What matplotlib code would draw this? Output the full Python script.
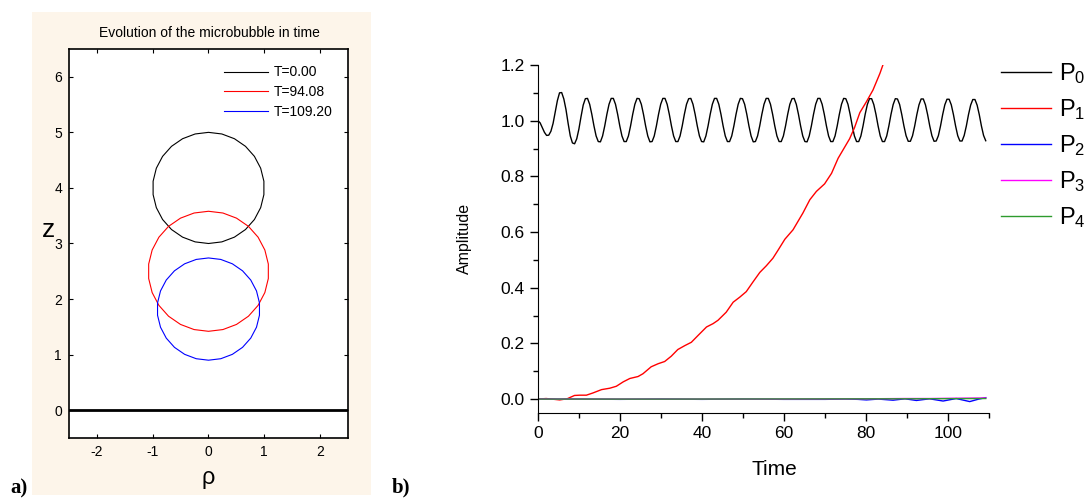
import numpy as np
import matplotlib
matplotlib.use("Agg")
import matplotlib.pyplot as plt
from matplotlib.patches import CirclePolygon, Rectangle
from matplotlib.lines import Line2D
from matplotlib.ticker import MultipleLocator, FormatStrFormatter

plt.rcParams['font.family'] = ['Liberation Sans', 'DejaVu Sans']
plt.rcParams['mathtext.fontset'] = 'custom'
plt.rcParams['mathtext.rm'] = 'Liberation Sans'
plt.rcParams['mathtext.it'] = 'Liberation Sans'
plt.rcParams['axes.unicode_minus'] = False

# ---- panel a) : bubble outlines (centre on the axis, radius) ----
bubble_labels = ['T=0.00', 'T=94.08', 'T=109.20']
bubble_z = [4.0, 2.5, 1.82]
bubble_r = [1.0, 1.08, 0.92]
bubble_colors = ['black', 'red', 'blue']

# ---- panel b) : mode amplitudes ----
# P0 read every 0.525 time units from t=0 to t=109.2
p0_vals = [1.000, 0.992, 0.975, 0.958, 0.947, 0.948, 0.962, 0.990, 1.030, 1.072,
           1.100, 1.101, 1.078, 1.040, 0.990, 0.945, 0.920, 0.917, 0.935, 0.970,
           1.015, 1.056, 1.079, 1.080,
           1.059, 1.023, 0.981, 0.945, 0.925, 0.924, 0.945, 0.981, 1.023, 1.059, 1.080, 1.080,
           1.059, 1.023, 0.981, 0.945, 0.925, 0.925, 0.945, 0.981, 1.023, 1.059, 1.080, 1.079,
           1.059, 1.023, 0.981, 0.945, 0.924, 0.925, 0.945, 0.981, 1.023, 1.059, 1.080, 1.080,
           1.059, 1.023, 0.981, 0.945, 0.925, 0.925, 0.945, 0.981, 1.023, 1.059, 1.079, 1.080,
           1.059, 1.023, 0.981, 0.945, 0.925, 0.924, 0.945, 0.981, 1.023, 1.059, 1.080, 1.080,
           1.059, 1.023, 0.981, 0.945, 0.925, 0.925, 0.945, 0.981, 1.023, 1.059, 1.080, 1.079,
           1.059, 1.023, 0.981, 0.945, 0.924, 0.925, 0.945, 0.981, 1.023, 1.059, 1.080, 1.080,
           1.059, 1.023, 0.981, 0.945, 0.925, 0.925, 0.945, 0.981, 1.023, 1.059, 1.079, 1.080,
           1.059, 1.023, 0.981, 0.945, 0.925, 0.924, 0.945, 0.981, 1.023, 1.059, 1.080, 1.080,
           1.059, 1.023, 0.981, 0.945, 0.925, 0.925, 0.945, 0.981, 1.023, 1.059, 1.080, 1.079,
           1.059, 1.023, 0.981, 0.945, 0.925, 0.925, 0.945, 0.981, 1.023, 1.058, 1.079, 1.079,
           1.058, 1.023, 0.981, 0.945, 0.925, 0.925, 0.945, 0.981, 1.023, 1.058, 1.079, 1.078,
           1.058, 1.022, 0.981, 0.946, 0.926, 0.926, 0.946, 0.981, 1.022, 1.057, 1.078, 1.078,
           1.057, 1.022, 0.981, 0.946, 0.926, 0.927, 0.946, 0.981, 1.022, 1.057, 1.077, 1.077,
           1.057, 1.022, 0.981, 0.946, 0.927, 0.927, 0.947, 0.981, 1.022, 1.056, 1.076, 1.076,
           1.056, 1.022, 0.981, 0.947, 0.928]
p0_time = np.linspace(0, 109.2, 209)

p1_time = [0, 2.0, 5.3, 7.1, 8.9, 10.2, 11.8, 13.4, 15.5, 17.5, 19.1, 20.8,
           22.4, 24.4, 25.6, 27.6, 29.3, 30.9, 32.5, 34.1, 35.8, 37.4, 39.0,
           41.1, 42.7, 43.9, 45.9, 47.6, 49.2, 50.8, 52.4, 54.1, 55.7, 57.3,
           58.6, 60.2, 62.2, 64.6, 66.3, 67.9, 69.9, 71.6, 73.2, 74.8, 76.0,
           77.2, 78.5, 80.1, 81.7, 83.4, 84.6]
p1_vals = [0, 0.002, -0.003, 0.001, 0.013, 0.014, 0.014, 0.022, 0.034, 0.039,
           0.046, 0.062, 0.074, 0.081, 0.091, 0.116, 0.127, 0.135, 0.154, 0.178,
           0.192, 0.204, 0.228, 0.259, 0.271, 0.283, 0.312, 0.348, 0.366, 0.386,
           0.420, 0.455, 0.479, 0.506, 0.536, 0.574, 0.608, 0.668, 0.716, 0.746,
           0.773, 0.811, 0.865, 0.905, 0.935, 0.975, 1.029, 1.068, 1.110, 1.170,
           1.220]

p2_time = [0, 10, 20, 30, 40, 50, 60, 70, 75, 78, 80.1, 83, 86.6, 89.5, 92.3,
           95.5, 98.8, 102, 105.3, 107.5, 109.2]
p2_vals = [0, 0, -0.001, 0, -0.001, 0, -0.001, -0.001, 0, -0.001, -0.003, 0.0,
           -0.004, 0.001, -0.005, 0.001, -0.007, 0.002, -0.009, 0.0, 0.005]

p3_time = [0, 20, 40, 60, 80, 89.5, 95.5, 102, 109.2]
p3_vals = [0, 0, 0, 0, 0.001, 0.002, 0.002, 0.003, 0.004]

p4_time = [0, 30, 60, 90, 109.2]
p4_vals = [0, 0, 0.0005, 0.001, 0.002]

mode_labels = ['P$_0$', 'P$_1$', 'P$_2$', 'P$_3$', 'P$_4$']
mode_colors = ['black', 'red', 'blue', 'magenta', '#2e9b2e']

W, H = 1085, 498
fig = plt.figure(figsize=(W / 100, H / 100), dpi=100)

# beige panel behind a)
fig.patches.append(Rectangle((32 / W, 3 / H), 339 / W, 483 / H,
                             transform=fig.transFigure, facecolor='#fdf5ea',
                             edgecolor='none', zorder=-5))

# ---------------- panel a) ----------------
axL = fig.add_axes([69 / W, 60 / H, 279 / W, 389 / H])
for z, r, c in zip(bubble_z, bubble_r, bubble_colors):
    axL.add_patch(CirclePolygon((0, z), r, resolution=26, fill=False,
                                edgecolor=c, linewidth=0.8))
axL.axhline(0, color='black', linewidth=2)
axL.set_xlim(-2.5, 2.5)
axL.set_ylim(-0.5, 6.5)
axL.set_xticks([-2, -1, 0, 1, 2])
axL.set_yticks([0, 1, 2, 3, 4, 5, 6])
axL.tick_params(direction='in', top=True, right=True, length=3,
                labelsize=10, pad=5)
for s in axL.spines.values():
    s.set_linewidth(1.2)
axL.set_ylabel('z', rotation=0, fontsize=19, ha='center', va='center')
axL.yaxis.set_label_coords(-0.075, 0.535)
axL.set_xlabel('ρ', fontsize=17, va='center')
axL.xaxis.set_label_coords(0.5, -0.103)
handles = [Line2D([], [], color=c, linewidth=0.8) for c in bubble_colors]
axL.legend(handles, bubble_labels, loc='upper right',
           bbox_to_anchor=(0.99, 0.99), frameon=False,
           fontsize=10, handlelength=3.2, handletextpad=0.4,
           labelspacing=0.42)
fig.text(209 / W, 1 - 33 / H, 'Evolution of the microbubble in time',
         ha='center', va='center', fontsize=10)

# ---------------- panel b) ----------------
axR = fig.add_axes([538 / W, 85 / H, 451 / W, 348 / H])
series = [(p0_time, p0_vals), (p1_time, p1_vals), (p2_time, p2_vals),
          (p3_time, p3_vals), (p4_time, p4_vals)]
for (t, v), c, lab in zip(series, mode_colors, mode_labels):
    axR.plot(t, v, color=c, linewidth=1, label=lab)
axR.set_xlim(0, 110)
axR.set_ylim(-0.05, 1.2)
axR.spines['top'].set_visible(False)
axR.spines['right'].set_visible(False)
axR.xaxis.set_major_locator(MultipleLocator(20))
axR.xaxis.set_minor_locator(MultipleLocator(10))
axR.yaxis.set_major_locator(MultipleLocator(0.2))
axR.yaxis.set_minor_locator(MultipleLocator(0.1))
axR.yaxis.set_major_formatter(FormatStrFormatter('%.1f'))
axR.tick_params(which='major', direction='out', length=6, width=1,
                labelsize=12.5)
axR.tick_params(which='minor', direction='out', length=3.5, width=1)
axR.set_ylabel('Amplitude', fontsize=11.5, va='center')
axR.yaxis.set_label_coords((464 - 538) / 451, (413 - 238) / 348)
axR.set_xlabel('Time', fontsize=15, va='center')
axR.xaxis.set_label_coords((774 - 538) / 451, (413 - 469) / 348)
axR.legend(loc='upper left', bbox_to_anchor=(1.027, 1.01), frameon=False,
           fontsize=17, handlelength=2.1, handletextpad=0.35,
           labelspacing=0.47, borderaxespad=0, borderpad=0)

fig.text(10 / W, 1 - 488 / H, 'a)', fontsize=15, fontweight='bold',
         family='Liberation Serif', va='center')
fig.text(392 / W, 1 - 487 / H, 'b)', fontsize=15, fontweight='bold',
         family='Liberation Serif', va='center')

fig.savefig('out.png', dpi=100, facecolor='white')
